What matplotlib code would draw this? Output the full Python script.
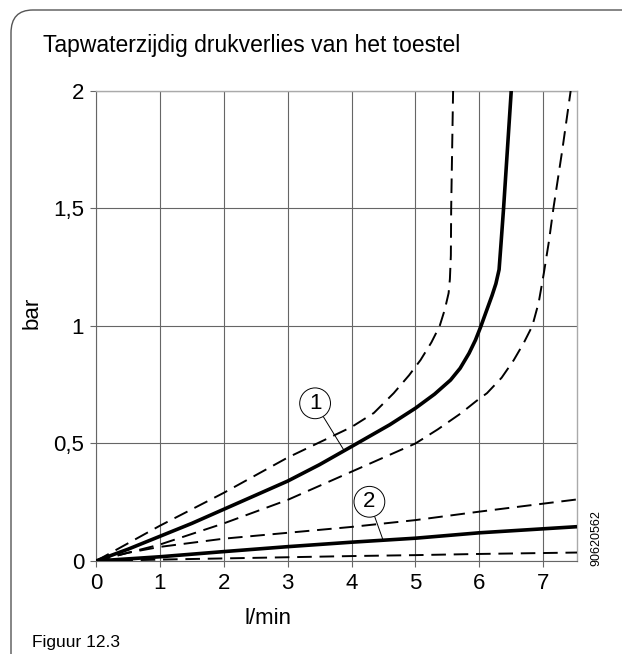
import numpy as np
import matplotlib
matplotlib.use('Agg')
import matplotlib.pyplot as plt
from matplotlib.patches import FancyBboxPatch

plt.rcParams['font.family'] = ['Liberation Sans', 'DejaVu Sans']

# curve 1 (solid) and its tolerance band (dashed)
c1_x = [0, 0.5, 1, 1.5, 2, 2.5, 3, 3.5, 4, 4.6, 5, 5.3, 5.55, 5.7, 5.84, 5.94,
        6.02, 6.12, 6.2, 6.26, 6.31, 6.34, 6.38, 6.44, 6.5]
c1_y = [0, 0.05, 0.105, 0.16, 0.22, 0.28, 0.34, 0.41, 0.487, 0.58, 0.65, 0.71,
        0.77, 0.82, 0.884, 0.94, 0.995, 1.07, 1.13, 1.18, 1.24, 1.35, 1.5,
        1.75, 2.0]
c1_hi_x = [0, 1, 2, 3, 4, 4.35, 4.66, 4.9, 5.08, 5.25, 5.38, 5.46, 5.52, 5.54,
           5.555, 5.56, 5.575, 5.59]
c1_hi_y = [0, 0.15, 0.29, 0.44, 0.57, 0.63, 0.714, 0.79, 0.855, 0.93, 1.0, 1.07,
           1.14, 1.2, 1.3, 1.5, 1.75, 2.0]
c1_lo_x = [0, 1, 2, 3, 4, 5, 5.35, 5.71, 5.95, 6.12, 6.35, 6.54, 6.7, 6.83, 6.93,
           7.01, 7.09, 7.16, 7.3, 7.43]
c1_lo_y = [0, 0.07, 0.16, 0.26, 0.38, 0.5, 0.56, 0.628, 0.68, 0.714, 0.78, 0.855,
           0.93, 1.0, 1.1, 1.224, 1.36, 1.5, 1.75, 2.0]

# curve 2 (solid) and its band
c2_x = [0, 1, 2, 3, 4, 5, 6, 7.53]
c2_y = [0, 0.018, 0.04, 0.061, 0.08, 0.097, 0.12, 0.146]
c2_hi_x = [0, 0.5, 1, 2, 3, 4, 5, 6, 7.53]
c2_hi_y = [0, 0.035, 0.06, 0.095, 0.12, 0.145, 0.174, 0.21, 0.262]
c2_lo_x = [0, 1, 2, 3, 4, 5, 6, 7.53]
c2_lo_y = [0, 0.006, 0.011, 0.016, 0.021, 0.025, 0.03, 0.036]

xticks = [0, 1, 2, 3, 4, 5, 6, 7]
yticks = [0, 0.5, 1, 1.5, 2]
ylabels = ['0', '0,5', '1', '1,5', '2']

fig = plt.figure(figsize=(6.22, 6.54), dpi=100)
ax = fig.add_axes([0.1543, 0.1422, 0.7734, 0.7187])

dash = (0, (7.5, 4))
ax.plot(c1_x, c1_y, color='black', lw=2.6, solid_capstyle='butt',
        solid_joinstyle='round', zorder=3)
ax.plot(c1_hi_x, c1_hi_y, color='black', lw=1.4, linestyle=dash, zorder=3)
ax.plot(c1_lo_x, c1_lo_y, color='black', lw=1.4, linestyle=dash, zorder=3)
ax.plot(c2_x, c2_y, color='black', lw=2.6, solid_capstyle='butt', zorder=3)
ax.plot(c2_hi_x, c2_hi_y, color='black', lw=1.4, linestyle=dash, zorder=3)
ax.plot(c2_lo_x, c2_lo_y, color='black', lw=1.4, linestyle=dash, zorder=3)

ax.set_xlim(0, 7.53)
ax.set_ylim(0, 2)
ax.set_xticks(xticks)
ax.set_yticks(yticks)
ax.set_yticklabels(ylabels)
ax.tick_params(labelsize=16, length=4.5, width=0.8, color='#666666', pad=4)
ax.grid(True, color='#666666', lw=0.8)
ax.set_axisbelow(True)
for s in ['left', 'bottom']:
    ax.spines[s].set_color('#666666')
    ax.spines[s].set_linewidth(0.8)
for s in ['top', 'right']:
    ax.spines[s].set_color('#aaaaaa')
    ax.spines[s].set_linewidth(1.0)

ax.set_ylabel('bar', fontsize=16)
ax.yaxis.set_label_coords(-0.112, 0.528)
ax.set_xlabel('l/min', fontsize=16, va='center')
ax.xaxis.set_label_coords(0.358, -0.122)

for txt, tip, pos in [('1', (3.88, 0.472), (3.43, 0.671)),
                      ('2', (4.49, 0.092), (4.28, 0.252))]:
    ax.annotate(txt, xy=tip, xytext=pos, fontsize=16, ha='center', va='center',
                bbox=dict(boxstyle='circle,pad=0.22', fc='white', ec='black', lw=0.7),
                arrowprops=dict(arrowstyle='-', color='black', lw=0.7,
                                shrinkA=0, shrinkB=0), zorder=4)

frame = FancyBboxPatch((11 / 622, -0.2), 1.2, 1.2 - 10 / 654,
                       boxstyle='round,pad=0,rounding_size=0.035',
                       transform=fig.transFigure, fill=False,
                       ec='#555555', lw=1.0)
fig.patches.append(frame)

fig.text(43 / 622, 1 - 52 / 654, 'Tapwaterzijdig drukverlies van het toestel',
         fontsize=16.5, va='baseline', ha='left')
fig.text(32 / 622, 1 - 642 / 654, 'Figuur 12.3', fontsize=12.5,
         va='center', ha='left')
fig.text(596 / 622, 1 - 538 / 654, '90620562', fontsize=9, rotation=90,
         va='center', ha='center')

fig.savefig('out.png', dpi=100)
